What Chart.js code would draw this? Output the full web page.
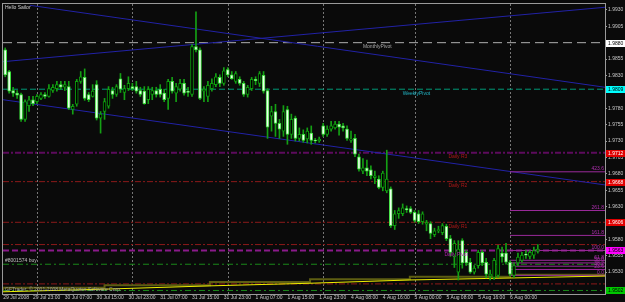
<!DOCTYPE html>
<html lang="en">
<head>
<meta charset="UTF-8" />
<title>Hello Sailor - H1</title>
<style>
  html, body { margin: 0; padding: 0; background: #0a0a0a; }
  canvas { display: block; }
</style>
<script src="https://cdn.jsdelivr.net/npm/chart.js"></script>
</head>
<body>
<canvas id="chart" width="625" height="302"></canvas>
<script>
// hourly candles, oldest first (bar 0 = 29 Jul 2008 15:00)
var opens = [
  1.9869, 1.9836, 1.9807, 1.9803, 1.9801, 1.9763, 1.9784, 1.9793, 1.9790, 1.9795,
  1.9801, 1.9798, 1.9807, 1.9810, 1.9816, 1.9812, 1.9813, 1.9778, 1.9786, 1.9821,
  1.9827, 1.9801, 1.9798, 1.9816, 1.9765, 1.9775, 1.9783, 1.9807, 1.9801, 1.9825,
  1.9804, 1.9810, 1.9813, 1.9813, 1.9807, 1.9806, 1.9793, 1.9801, 1.9807, 1.9809,
  1.9803, 1.9795, 1.9821, 1.9803, 1.9809, 1.9818, 1.9806, 1.9801, 1.9874, 1.9869,
  1.9806, 1.9798, 1.9810, 1.9816, 1.9827, 1.9818, 1.9839, 1.9831, 1.9821, 1.9824,
  1.9818, 1.9801, 1.9810, 1.9824, 1.9818, 1.9830, 1.9807, 1.9768, 1.9775, 1.9757,
  1.9745, 1.9778, 1.9740, 1.9765, 1.9734, 1.9740, 1.9733, 1.9742, 1.9731, 1.9730,
  1.9753, 1.9740, 1.9748, 1.9750, 1.9756, 1.9753, 1.9748, 1.9731, 1.9734, 1.9706,
  1.9684, 1.9689, 1.9686, 1.9674, 1.9672, 1.9659, 1.9654, 1.9657, 1.9601, 1.9619,
  1.9619, 1.9627, 1.9627, 1.9621, 1.9619, 1.9607, 1.9603, 1.9604, 1.9587, 1.9593,
  1.9590, 1.9600, 1.9581, 1.9553, 1.9530, 1.9578, 1.9560, 1.9545, 1.9530, 1.9540,
  1.9560, 1.9545, 1.9524, 1.9522, 1.9525, 1.9559, 1.9559, 1.9545, 1.9525, 1.9544,
  1.9548, 1.9557, 1.9554, 1.9556, 1.9562
];
var highs = [
  1.9872, 1.9838, 1.9812, 1.9807, 1.9803, 1.9793, 1.9798, 1.9798, 1.9801, 1.9804,
  1.9804, 1.9816, 1.9816, 1.9821, 1.9821, 1.9821, 1.9821, 1.9786, 1.9824, 1.9836,
  1.9840, 1.9804, 1.9816, 1.9822, 1.9775, 1.9795, 1.9813, 1.9812, 1.9816, 1.9833,
  1.9815, 1.9828, 1.9818, 1.9821, 1.9812, 1.9813, 1.9813, 1.9812, 1.9812, 1.9816,
  1.9809, 1.9824, 1.9827, 1.9818, 1.9824, 1.9824, 1.9812, 1.9877, 1.9927, 1.9872,
  1.9813, 1.9821, 1.9825, 1.9833, 1.9831, 1.9842, 1.9842, 1.9836, 1.9836, 1.9828,
  1.9821, 1.9815, 1.9827, 1.9828, 1.9836, 1.9836, 1.9810, 1.9783, 1.9786, 1.9763,
  1.9784, 1.9783, 1.9771, 1.9768, 1.9750, 1.9747, 1.9750, 1.9753, 1.9734, 1.9736,
  1.9757, 1.9753, 1.9760, 1.9760, 1.9760, 1.9757, 1.9753, 1.9745, 1.9740, 1.9710,
  1.9703, 1.9701, 1.9692, 1.9684, 1.9677, 1.9684, 1.9716, 1.9660, 1.9624, 1.9628,
  1.9634, 1.9631, 1.9630, 1.9624, 1.9624, 1.9622, 1.9609, 1.9607, 1.9597, 1.9600,
  1.9604, 1.9603, 1.9586, 1.9578, 1.9578, 1.9581, 1.9563, 1.9551, 1.9540, 1.9563,
  1.9563, 1.9551, 1.9533, 1.9551, 1.9571, 1.9568, 1.9574, 1.9548, 1.9544, 1.9559,
  1.9560, 1.9563, 1.9563, 1.9568, 1.9572
];
var lows = [
  1.9828, 1.9803, 1.9798, 1.9795, 1.9760, 1.9760, 1.9775, 1.9784, 1.9787, 1.9793,
  1.9795, 1.9797, 1.9804, 1.9806, 1.9809, 1.9807, 1.9778, 1.9771, 1.9783, 1.9818,
  1.9792, 1.9790, 1.9797, 1.9762, 1.9742, 1.9763, 1.9780, 1.9795, 1.9798, 1.9804,
  1.9793, 1.9807, 1.9807, 1.9803, 1.9798, 1.9786, 1.9787, 1.9793, 1.9797, 1.9797,
  1.9790, 1.9778, 1.9803, 1.9790, 1.9806, 1.9800, 1.9798, 1.9798, 1.9866, 1.9793,
  1.9790, 1.9790, 1.9806, 1.9813, 1.9813, 1.9815, 1.9828, 1.9824, 1.9818, 1.9815,
  1.9798, 1.9797, 1.9807, 1.9816, 1.9813, 1.9803, 1.9734, 1.9745, 1.9737, 1.9734,
  1.9737, 1.9725, 1.9734, 1.9730, 1.9730, 1.9728, 1.9727, 1.9725, 1.9727, 1.9728,
  1.9737, 1.9737, 1.9745, 1.9748, 1.9739, 1.9745, 1.9731, 1.9728, 1.9706, 1.9684,
  1.9680, 1.9677, 1.9672, 1.9665, 1.9657, 1.9654, 1.9651, 1.9598, 1.9595, 1.9612,
  1.9616, 1.9621, 1.9619, 1.9606, 1.9604, 1.9603, 1.9593, 1.9581, 1.9584, 1.9590,
  1.9587, 1.9578, 1.9554, 1.9537, 1.9518, 1.9536, 1.9540, 1.9528, 1.9527, 1.9536,
  1.9540, 1.9521, 1.9518, 1.9519, 1.9522, 1.9545, 1.9542, 1.9524, 1.9522, 1.9540,
  1.9545, 1.9551, 1.9550, 1.9551, 1.9559
];
var closes = [
  1.9831, 1.9806, 1.9803, 1.9800, 1.9763, 1.9790, 1.9793, 1.9787, 1.9798, 1.9801,
  1.9798, 1.9810, 1.9812, 1.9816, 1.9812, 1.9816, 1.9780, 1.9783, 1.9821, 1.9828,
  1.9795, 1.9793, 1.9806, 1.9765, 1.9771, 1.9790, 1.9809, 1.9801, 1.9813, 1.9809,
  1.9810, 1.9818, 1.9810, 1.9806, 1.9801, 1.9787, 1.9809, 1.9807, 1.9801, 1.9801,
  1.9793, 1.9821, 1.9806, 1.9813, 1.9818, 1.9803, 1.9804, 1.9874, 1.9869, 1.9795,
  1.9809, 1.9815, 1.9818, 1.9828, 1.9818, 1.9837, 1.9831, 1.9825, 1.9833, 1.9818,
  1.9801, 1.9812, 1.9824, 1.9822, 1.9833, 1.9806, 1.9751, 1.9775, 1.9757, 1.9748,
  1.9775, 1.9740, 1.9763, 1.9734, 1.9740, 1.9731, 1.9745, 1.9731, 1.9730, 1.9733,
  1.9740, 1.9748, 1.9753, 1.9756, 1.9751, 1.9750, 1.9734, 1.9733, 1.9710, 1.9687,
  1.9689, 1.9684, 1.9677, 1.9677, 1.9659, 1.9681, 1.9672, 1.9601, 1.9619, 1.9624,
  1.9628, 1.9625, 1.9621, 1.9609, 1.9607, 1.9619, 1.9606, 1.9589, 1.9593, 1.9595,
  1.9601, 1.9581, 1.9560, 1.9574, 1.9565, 1.9544, 1.9544, 1.9530, 1.9536, 1.9560,
  1.9544, 1.9527, 1.9527, 1.9548, 1.9566, 1.9553, 1.9545, 1.9527, 1.9540, 1.9553,
  1.9556, 1.9556, 1.9560, 1.9563, 1.9565
];

// time axis (bar positions of the labels) and price axis
var timeLabels = ['29 Jul 2008', '29 Jul 23:00', '30 Jul 07:00', '30 Jul 15:00', '30 Jul 23:00',
  '31 Jul 07:00', '31 Jul 15:00', '31 Jul 23:00', '1 Aug 07:00', '1 Aug 15:00', '1 Aug 23:00',
  '4 Aug 08:00', '4 Aug 16:00', '5 Aug 00:00', '5 Aug 08:00', '5 Aug 16:00', '6 Aug 00:00'];
var timeBars = [-0.5, 7, 15, 23, 31, 39, 47, 55, 63, 71, 79, 87, 95, 103, 111, 119, 127];
var dayBars = [8, 32, 56, 80, 103, 127];
var priceTicks = [1.9930, 1.9905, 1.9880, 1.9855, 1.9830, 1.9805, 1.9780, 1.9755, 1.9730,
  1.9705, 1.9680, 1.9655, 1.9630, 1.9605, 1.9580, 1.9555, 1.9530];

// pivot levels
var pivotNames = ['MonthlyPivot', 'WeeklyPivot', 'Daily R3', 'Daily R2', 'Daily R1', 'Daily Pivot'];
var pivotValues = [1.9880, 1.9809, 1.9712, 1.9668, 1.9606, 1.9563];
var pivotLabelBars = [90, 100, 111.5, 111.5, 111.5, 110.5];
var extraLevels = [1.9572, 1.9542, 1.9512, 1.9502];

// fibonacci expansion on the last day
var fibNames = ['423.6', '261.8', '161.8', '100.0', '61.8', '50.0', '38.2', '23.6', '0.0'];
var fibValues = [1.9683, 1.9624, 1.9586, 1.9563, 1.9548, 1.9544, 1.9539, 1.9534, 1.9525];
var fibStartBar = 127;

// channel lines: [bar, price] end points
var channelTop = [[6.2, 1.9937], [150.9, 1.9812]];
var channelRise = [[-0.55, 1.9851], [150.9, 1.9934]];
var channelLow = [[-0.55, 1.9793], [150.9, 1.9663]];

// slow moving averages at the bottom
var maBars = [-0.55, 25, 51.5, 76.7, 101.8, 127, 150.9];
var maFast = [1.9500, 1.9504, 1.9509, 1.9513, 1.9518, 1.9521, 1.9524];
var maSlow = [1.9502, 1.9506, 1.9510, 1.9515, 1.9519, 1.9523, 1.9526];

var X_MIN = -0.55, X_MAX = 150.9;
var Y_MIN = 1.94966, Y_MAX = 1.9939;

var FONT = '"Liberation Sans", Arial, sans-serif';
var BULL_FILL = '#000000', BULL_EDGE = '#0c9c0c';
var BEAR_FILL = '#eaffea', BEAR_EDGE = '#3ce03c';
var WICK = '#14a014';

function hline(v, color, dash, width) {
  return {
    type: 'line',
    data: [{ x: X_MIN, y: v }, { x: X_MAX, y: v }],
    borderColor: color,
    borderDash: dash,
    borderWidth: width || 1,
    pointRadius: 0,
    order: 5
  };
}
function segment(points, color) {
  return {
    type: 'line',
    data: points.map(function (p) { return { x: p[0], y: p[1] }; }),
    borderColor: color,
    borderWidth: 1,
    pointRadius: 0,
    order: 4
  };
}

var bars = opens.map(function (o, i) { return i; });
var isBear = function (i) { return closes[i] < opens[i]; };

var datasets = [
  {
    label: 'body',
    data: bars.map(function (i) { return { x: i, y: [opens[i], closes[i]] }; }),
    backgroundColor: function (c) { return isBear(c.dataIndex) ? BEAR_FILL : BULL_FILL; },
    borderColor: function (c) { return isBear(c.dataIndex) ? BEAR_EDGE : BULL_EDGE; },
    borderWidth: 1,
    borderSkipped: false,
    barThickness: 3,
    minBarLength: 1,
    grouped: false,
    order: 0
  },
  {
    label: 'wick',
    data: bars.map(function (i) { return { x: i, y: [lows[i], highs[i]] }; }),
    backgroundColor: WICK,
    barThickness: 1,
    grouped: false,
    order: 1
  },
  segment(channelTop, '#2222a6'),
  segment(channelRise, '#2222a6'),
  segment(channelLow, '#2222a6'),
  hline(pivotValues[0], '#b0b0b0', [9, 5]),
  hline(pivotValues[1], '#009a78', [6, 3]),
  hline(pivotValues[2], '#5c0b5c', [6, 2, 2, 2], 2),
  hline(pivotValues[3], '#8c1a1a', [6, 2, 2, 2]),
  hline(pivotValues[4], '#8c1a1a', [6, 2, 2, 2]),
  hline(pivotValues[5], '#8a1a8a', [6, 3], 2),
  hline(extraLevels[0], '#8c1a1a', [6, 2, 2, 2]),
  hline(extraLevels[1], '#1a8a1a', [6, 3, 2, 3]),
  hline(extraLevels[2], '#8c1a1a', [6, 2, 2, 2]),
  hline(extraLevels[3], '#1a8a1a', [6, 3, 2, 3])
];

fibValues.forEach(function (v) {
  datasets.push({
    type: 'line',
    data: [{ x: fibStartBar, y: v }, { x: X_MAX, y: v }],
    borderColor: '#9a2a9a',
    borderWidth: 1,
    pointRadius: 0,
    order: 3
  });
});

datasets.push({
  type: 'line',
  data: maBars.map(function (b, i) { return { x: b, y: maSlow[i] }; }),
  borderColor: '#5e5e12',
  borderWidth: 2,
  stepped: 'after',
  pointRadius: 0,
  order: 3
});
datasets.push({
  type: 'line',
  data: maBars.map(function (b, i) { return { x: b, y: maFast[i] }; }),
  borderColor: '#f0f000',
  borderWidth: 1,
  pointRadius: 0,
  order: 2
});

function text(ctx, s, x, y, color, align, base) {
  ctx.fillStyle = color;
  ctx.textAlign = align || 'left';
  ctx.textBaseline = base || 'top';
  ctx.fillText(s, x, y);
}

var overlay = {
  id: 'overlay',
  beforeDatasetsDraw: function (chart) {
    var ctx = chart.ctx, xs = chart.scales.x, area = chart.chartArea;
    ctx.save();
    ctx.strokeStyle = '#767676';
    ctx.lineWidth = 1;
    ctx.setLineDash([2, 2]);
    dayBars.forEach(function (b) {
      var px = Math.round(xs.getPixelForValue(b)) + 0.5;
      ctx.beginPath();
      ctx.moveTo(px, area.top);
      ctx.lineTo(px, area.bottom);
      ctx.stroke();
    });
    ctx.restore();
  },
  afterDatasetsDraw: function (chart) {
    var ctx = chart.ctx, xs = chart.scales.x, ys = chart.scales.y, area = chart.chartArea;
    var colors = ['#a8a8a8', '#22b8c8', '#b01818', '#b01818', '#b01818', '#b020b0'];
    ctx.save();
    ctx.font = '5px ' + FONT;
    pivotNames.forEach(function (n, i) {
      text(ctx, n, xs.getPixelForValue(pivotLabelBars[i]), ys.getPixelForValue(pivotValues[i]) + 1.5, colors[i]);
    });
    fibNames.forEach(function (n, i) {
      text(ctx, n, area.right - 1, ys.getPixelForValue(fibValues[i]) - 0.5, '#b030b0', 'right', 'bottom');
    });
    text(ctx, 'Hello Sailor', area.left + 2, area.top + 1, '#d0d0d0');
    text(ctx, '#8001574 buy', area.left + 2, ys.getPixelForValue(extraLevels[1]) - 1.5, '#c0c0c0', 'left', 'bottom');
    text(ctx, 'GFTrader, \u00a9 2001-2008 MetaQuotes Software Corp.', area.left + 2, area.bottom - 4.5, '#a0a0a0', 'left', 'middle');
    ctx.restore();
  },
  afterDraw: function (chart) {
    var ctx = chart.ctx, ys = chart.scales.y, area = chart.chartArea;
    ctx.save();
    ctx.strokeStyle = '#9a9a9a';
    ctx.lineWidth = 1;
    ctx.strokeRect(area.left - 0.5, area.top - 0.5, area.right - area.left + 1, area.bottom - area.top + 1);
    var boxes = [
      [pivotValues[0], '#ffffff', '#000000'],
      [pivotValues[1], '#00ffff', '#000000'],
      [pivotValues[2], '#e00000', '#ffffff'],
      [pivotValues[3], '#e00000', '#ffffff'],
      [pivotValues[4], '#e00000', '#ffffff'],
      [pivotValues[5], '#ff00ff', '#000000'],
      [extraLevels[3], '#00c800', '#000000']
    ];
    ctx.font = '5px ' + FONT;
    boxes.forEach(function (b) {
      var py = Math.round(ys.getPixelForValue(b[0]));
      ctx.fillStyle = b[1];
      ctx.fillRect(area.right + 1, py - 3, 19, 7);
      text(ctx, b[0].toFixed(4), area.right + 3, py + 0.5, b[2], 'left', 'middle');
    });
    ctx.restore();
  }
};

new Chart(document.getElementById('chart').getContext('2d'), {
  type: 'bar',
  data: { datasets: datasets },
  options: {
    responsive: false,
    animation: false,
    events: [],
    layout: { padding: { left: 3, top: 2, right: 0, bottom: 0 } },
    plugins: { legend: { display: false }, tooltip: { enabled: false } },
    scales: {
      x: {
        type: 'linear',
        min: X_MIN,
        max: X_MAX,
        offset: false,
        afterFit: function (s) { s.height = 8; },
        afterBuildTicks: function (s) { s.ticks = timeBars.map(function (v) { return { value: v }; }); },
        grid: { display: false, drawTicks: false, offset: false },
        border: { display: true, color: '#9a9a9a' },
        ticks: {
          autoSkip: false,
          maxRotation: 0,
          align: 'start',
          padding: 1,
          color: '#c8c8c8',
          font: { family: FONT, size: 5 },
          callback: function (v, i) { return timeLabels[i]; }
        }
      },
      y: {
        type: 'linear',
        position: 'right',
        min: Y_MIN,
        max: Y_MAX,
        beginAtZero: false,
        afterFit: function (s) { s.width = 20; },
        afterBuildTicks: function (s) { s.ticks = priceTicks.map(function (v) { return { value: v }; }); },
        grid: { drawOnChartArea: false, drawTicks: true, tickLength: 2, color: '#9a9a9a' },
        border: { display: true, color: '#9a9a9a' },
        ticks: {
          padding: 1,
          color: '#c8c8c8',
          font: { family: FONT, size: 5 },
          callback: function (v) { return v.toFixed(4); }
        }
      }
    }
  },
  plugins: [overlay]
});
</script>
</body>
</html>
